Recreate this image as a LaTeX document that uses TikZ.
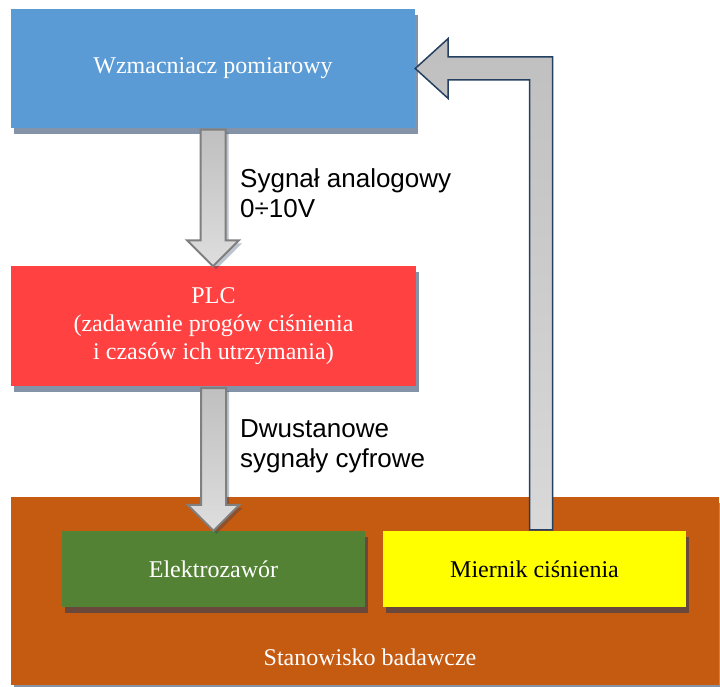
\documentclass[tikz,border=0pt]{standalone}
\usepackage{fontspec}
\setmainfont{Liberation Serif}
\newfontfamily\opisfont{Liberation Sans}
\usetikzlibrary{calc,shadows}
\pgfdeclarelayer{edgelayer}
\pgfdeclarelayer{nodelayer}
\pgfsetlayers{nodelayer,edgelayer,main}
\definecolor{niebieski}{HTML}{5B9BD5}
\definecolor{czerwony}{HTML}{FF4141}
\definecolor{brazowy}{HTML}{C55A11}
\definecolor{zielony}{HTML}{548235}
\definecolor{zolty}{HTML}{FFFF00}
\definecolor{cien}{HTML}{1F3A5F}
\definecolor{granat}{HTML}{243F60}
\definecolor{ramka}{HTML}{7F7F7F}
\tikzset{font=\fontsize{24}{28}\selectfont}
\tikzstyle{none}=[inner sep=0pt]
\tikzstyle{blok}=[rectangle,inner sep=0pt,align=center,text=white,drop shadow={shadow xshift=3pt,shadow yshift=-6pt,fill=cien,opacity=.55}]
\tikzstyle{wzm}=[blok,fill=niebieski,minimum width=404pt,minimum height=119pt]
\tikzstyle{plc}=[blok,fill=czerwony,minimum width=405pt,minimum height=120pt]
\tikzstyle{stanowisko}=[blok,fill=brazowy,minimum width=708pt,minimum height=188pt]
\tikzstyle{zawor}=[blok,fill=zielony,minimum width=303pt,minimum height=76pt]
\tikzstyle{miernik}=[blok,fill=zolty,text=black,minimum width=303pt,minimum height=76pt]
\tikzstyle{opis}=[inner sep=0pt,align=left,anchor=west,font=\opisfont\fontsize{26}{30}\selectfont]
\tikzstyle{strzalka}=[draw=ramka,line width=2pt,line join=miter,top color=black!25,bottom color=black!13,drop shadow={shadow xshift=3pt,shadow yshift=-3pt,fill=cien,opacity=.3}]
\tikzstyle{zwrotna}=[draw=granat,line width=1.5pt,line join=miter,top color=black!25,bottom color=black!15]
% block arrow pointing down, from #1 to #2
\newcommand{\strzalkadol}[2]{
	\draw [style=strzalka] let \p1=(#1), \p2=(#2) in
		(\x1-12.5pt,\y1-1.5pt) -- (\x1-12.5pt,\y2+26pt) -- (\x1-26pt,\y2+26pt) -- (\x1,\y2)
		-- (\x1+26pt,\y2+26pt) -- (\x1+12.5pt,\y2+26pt) -- (\x1+12.5pt,\y1-1.5pt) -- cycle;
}

\begin{document}
\begin{tikzpicture}[x=1pt,y=1pt]
	\useasboundingbox (0,0) rectangle (720,687);
	\begin{pgfonlayer}{nodelayer}
		\node [style=wzm] (0) at (213, 618.5) {Wzmacniacz pomiarowy};
		\node [style=plc] (1) at (213.5, 360.5) {PLC\\(zadawanie progów ciśnienia\\i czasów ich utrzymania)};
		\node [style=stanowisko] (2) at (365, 96) {};
		\node [style=zawor] (3) at (213.5, 118) {Elektrozawór};
		\node [style=miernik] (4) at (534.5, 118) {Miernik ciśnienia};
		\node [style=none, text=white] (5) at (370, 30) {Stanowisko badawcze};
		\node [style=opis] (6) at (240, 494) {Sygnał analogowy\\0÷10V};
		\node [style=opis] (7) at (240, 241) {Dwustanowe\\sygnały cyfrowe};
		\coordinate (8) at ($(4.north)+(6.5,0)$);
	\end{pgfonlayer}
	\begin{pgfonlayer}{edgelayer}
		\strzalkadol{0.south}{1.north}
		\strzalkadol{1.south}{3.north}
		\draw [style=zwrotna] let \p1=(8), \p2=(0.east) in
			(\x1-11.5pt,\y1+1pt) -- (\x1-11.5pt,\y2-11.5pt) -- (\x2+33pt,\y2-11.5pt) -- (\x2+33pt,\y2-30pt)
			-- (\x2,\y2) -- (\x2+33pt,\y2+30pt) -- (\x2+33pt,\y2+11.5pt) -- (\x1+11.5pt,\y2+11.5pt)
			-- (\x1+11.5pt,\y1+1pt) -- cycle;
	\end{pgfonlayer}
\end{tikzpicture}
\end{document}
